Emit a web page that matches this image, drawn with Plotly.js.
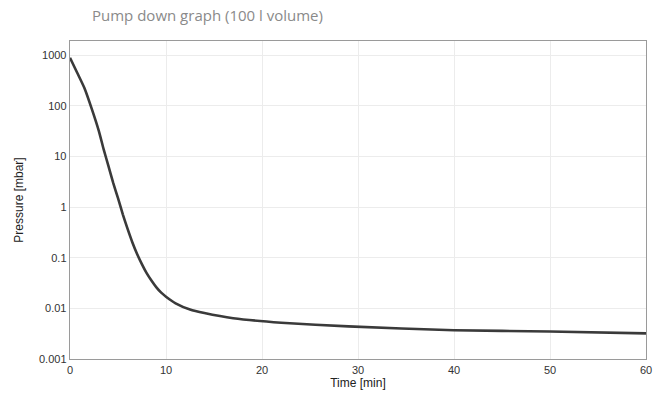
<!DOCTYPE html>
<html>
<head>
<meta charset="utf-8">
<script src="https://cdn.plot.ly/plotly-3.0.1.min.js"></script>
<style>html,body{margin:0;padding:0;background:#fff;}#chart{width:661px;height:394px;}</style>
</head>
<body>
<div id="chart"></div>
<script>
// Time [min]
const timeMin = [0, 0.75, 1.5, 2.25, 3, 3.5, 4, 4.5, 5, 5.5, 6, 6.5, 7, 7.5, 8, 8.5, 9, 9.5, 10, 11, 12.5, 14, 17, 22, 29, 40, 50, 60];
// Pressure [mbar]
const pressureMbar = [890, 450, 225, 89, 32, 14, 6.5, 3.0, 1.5, 0.72, 0.37, 0.2, 0.117, 0.074, 0.049, 0.035, 0.026, 0.0204, 0.017, 0.0126, 0.0095, 0.0081, 0.0064, 0.0052, 0.0044, 0.0037, 0.0035, 0.0032];
const yTickVals = [0.001, 0.01, 0.1, 1, 10, 100, 1000];
const yTickText = ["0.001", "0.01", "0.1", "1", "10", "100", "1000"];
const xTickVals = [0, 10, 20, 30, 40, 50, 60];

const trace = {
  x: timeMin,
  y: pressureMbar,
  type: 'scatter',
  mode: 'lines',
  line: {color: '#3a3a3a', width: 2.6, shape: 'spline', smoothing: 0.5},
  hoverinfo: 'skip'
};

const layout = {
  width: 661, height: 394,
  margin: {l: 70, r: 15, t: 41, b: 35},
  paper_bgcolor: '#ffffff',
  plot_bgcolor: '#ffffff',
  showlegend: false,
  title: {
    text: 'Pump down graph (100 l volume)',
    x: 92/661, xanchor: 'left', xref: 'container',
    y: 1, yref: 'container', yanchor: 'top', pad: {t: 10},
    font: {family: 'Open Sans, sans-serif', size: 15, color: '#8a8a8a'}
  },
  xaxis: {
    range: [0, 60],
    tickvals: xTickVals,
    ticks: '',
    showgrid: true, gridcolor: '#ececec', gridwidth: 1,
    zeroline: false,
    showline: true, linecolor: '#9a9a9a', linewidth: 1.3, mirror: true,
    tickfont: {family: 'Liberation Sans, Arial, sans-serif', size: 11, color: '#333'},
    title: {text: 'Time [min]', standoff: 2, font: {family: 'Liberation Sans, Arial, sans-serif', size: 12, color: '#222'}}
  },
  yaxis: {
    type: 'log',
    range: [-3, 3.28],
    tickvals: yTickVals,
    ticktext: yTickText,
    ticks: '',
    showgrid: true, gridcolor: '#ececec', gridwidth: 1,
    zeroline: false,
    showline: true, linecolor: '#9a9a9a', linewidth: 1.3, mirror: true,
    tickfont: {family: 'Liberation Sans, Arial, sans-serif', size: 11, color: '#333'},
    title: {text: 'Pressure [mbar]', standoff: 12, font: {family: 'Liberation Sans, Arial, sans-serif', size: 12, color: '#222'}}
  }
};

Plotly.newPlot('chart', [trace], layout, {displayModeBar: false, staticPlot: true});
</script>
</body>
</html>
